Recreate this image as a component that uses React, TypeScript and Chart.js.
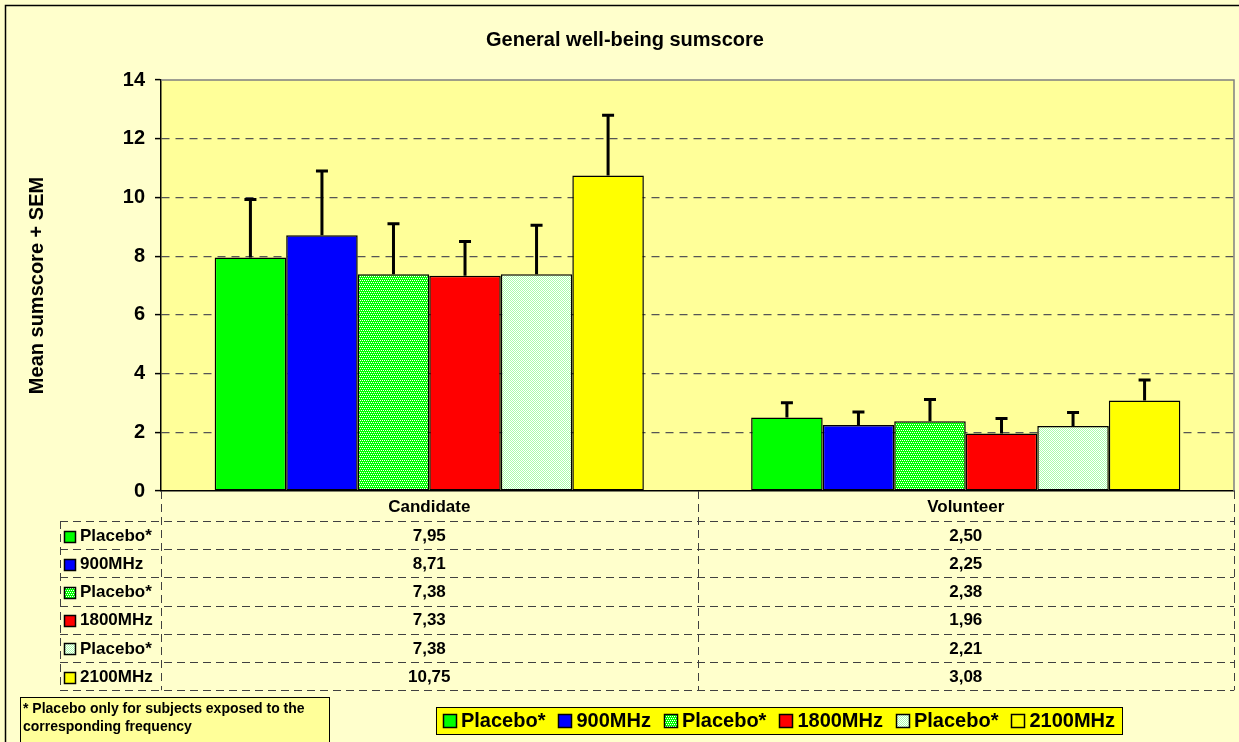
import React, { useEffect, useRef } from 'react';
import { Chart, registerables } from 'chart.js';

Chart.register(...registerables);

// ---------- data ----------
const categories = ['Candidate', 'Volunteer'];
const seriesLabels = ['Placebo*', '900MHz', 'Placebo*', '1800MHz', 'Placebo*', '2100MHz'];
const placebo900 = [7.95, 2.5];
const mhz900 = [8.71, 2.25];
const placebo1800 = [7.38, 2.38];
const mhz1800 = [7.33, 1.96];
const placebo2100 = [7.38, 2.21];
const mhz2100 = [10.75, 3.08];
const semPlacebo900 = [1.98, 0.51];
const sem900 = [2.19, 0.44];
const semPlacebo1800 = [1.72, 0.74];
const sem1800 = [1.17, 0.51];
const semPlacebo2100 = [1.67, 0.46];
const sem2100 = [2.05, 0.7];
const yTicks = [0, 2, 4, 6, 8, 10, 12, 14];
const titleText = 'General well-being sumscore';
const yAxisTitle = 'Mean sumscore + SEM';
const footnoteLines = ['* Placebo only for subjects exposed to the', 'corresponding frequency'];

const seriesValues = [placebo900, mhz900, placebo1800, mhz1800, placebo2100, mhz2100];
const seriesSem = [semPlacebo900, sem900, semPlacebo1800, sem1800, semPlacebo2100, sem2100];

const FONT = "'Liberation Sans', Arial, Helvetica, sans-serif";
const W = 1239;
const H = 742;

function makePattern(kind: 'dense' | 'light'): CanvasPattern | string {
  const c = document.createElement('canvas');
  c.width = 4;
  c.height = 4;
  const g = c.getContext('2d');
  if (!g) return kind === 'dense' ? '#55ff55' : '#ddffdd';
  if (kind === 'dense') {
    g.fillStyle = '#00ff00';
    g.fillRect(0, 0, 4, 4);
    g.fillStyle = '#ffffff';
    [[0, 0], [2, 0], [1, 2], [3, 2]].forEach(([x, y]) => g.fillRect(x, y, 1, 1));
  } else {
    g.fillStyle = '#ffffff';
    g.fillRect(0, 0, 4, 4);
    g.fillStyle = '#aaffaa';
    for (let y = 0; y < 4; y++) for (let x = 0; x < 4; x++) if ((x + y) % 2 === 0) g.fillRect(x, y, 1, 1);
  }
  const p = g.createPattern(c, 'repeat');
  return p || '#88ff88';
}

const fmt = (v: number) => v.toFixed(2).replace('.', ',');

export default function App() {
  const ref = useRef<HTMLCanvasElement | null>(null);

  useEffect(() => {
    document.body.style.margin = '0';
    document.body.style.overflow = 'hidden';
    const canvas = ref.current;
    if (!canvas) return;

    const fills = [
      '#00ff00',
      '#0000ff',
      makePattern('dense'),
      '#ff0000',
      makePattern('light'),
      '#ffff00',
    ];

    const drawKey = (ctx: CanvasRenderingContext2D, x: number, y: number, s: number, fill: any) => {
      ctx.save();
      ctx.fillStyle = fill;
      ctx.fillRect(x, y, s, s);
      ctx.strokeStyle = '#000';
      ctx.lineWidth = 1.5;
      ctx.setLineDash([]);
      ctx.strokeRect(x, y, s, s);
      ctx.restore();
    };

    const decor = {
      id: 'decor',
      beforeDraw(chart: any) {
        const { ctx, chartArea: a } = chart;
        ctx.save();
        ctx.fillStyle = '#ffffcc';
        ctx.fillRect(0, 0, W, H);
        ctx.strokeStyle = '#000';
        ctx.lineWidth = 1.5;
        ctx.strokeRect(5.5, 5.5, W + 20, H + 20);
        ctx.fillStyle = '#ffff99';
        ctx.fillRect(a.left, a.top, a.right - a.left, a.bottom - a.top);
        ctx.restore();
      },
      afterDatasetsDraw(chart: any) {
        const { ctx } = chart;
        const y = chart.scales.y;
        ctx.save();
        ctx.strokeStyle = '#000';
        ctx.lineWidth = 3;
        ctx.setLineDash([]);
        chart.data.datasets.forEach((ds: any, i: number) => {
          const meta = chart.getDatasetMeta(i);
          meta.data.forEach((bar: any, j: number) => {
            const top = y.getPixelForValue(ds.data[j] + seriesSem[i][j]);
            ctx.beginPath();
            ctx.moveTo(bar.x, bar.y);
            ctx.lineTo(bar.x, top);
            ctx.moveTo(bar.x - 6, top);
            ctx.lineTo(bar.x + 6, top);
            ctx.stroke();
          });
        });
        ctx.restore();
      },
      afterDraw(chart: any) {
        const { ctx, chartArea: a } = chart;
        const xs = chart.scales.x;
        ctx.save();
        // plot area top/right border
        ctx.strokeStyle = '#808080';
        ctx.lineWidth = 1.5;
        ctx.beginPath();
        ctx.moveTo(a.left, a.top);
        ctx.lineTo(a.right, a.top);
        ctx.lineTo(a.right, a.bottom);
        ctx.stroke();

        // title
        ctx.fillStyle = '#000';
        ctx.font = `bold 20px ${FONT}`;
        ctx.textAlign = 'center';
        ctx.textBaseline = 'middle';
        ctx.fillText(titleText, 625, 40);

        // y axis title
        ctx.save();
        ctx.translate(37, (a.top + a.bottom) / 2);
        ctx.rotate(-Math.PI / 2);
        ctx.fillText(yAxisTitle, 0, 0);
        ctx.restore();

        // data table
        const mid = (xs.getPixelForValue(0) + xs.getPixelForValue(1)) / 2;
        const cols = [a.left, mid, a.right];
        const headTop = a.bottom;
        const rowsTop = a.bottom + 30;
        const rowH = 28.2;
        const n = chart.data.datasets.length;
        const tableBottom = rowsTop + rowH * n;
        const labelLeft = 60;
        ctx.strokeStyle = '#404040';
        ctx.lineWidth = 1;
        ctx.setLineDash([8, 5]);
        ctx.beginPath();
        cols.forEach((cx) => {
          ctx.moveTo(Math.round(cx) + 0.5, headTop);
          ctx.lineTo(Math.round(cx) + 0.5, tableBottom);
        });
        ctx.moveTo(labelLeft + 0.5, rowsTop);
        ctx.lineTo(labelLeft + 0.5, tableBottom);
        for (let k = 0; k <= n; k++) {
          const yy = Math.round(rowsTop + k * rowH) + 0.5;
          ctx.moveTo(labelLeft, yy);
          ctx.lineTo(a.right, yy);
        }
        ctx.stroke();
        ctx.setLineDash([]);

        ctx.fillStyle = '#000';
        ctx.font = `bold 17px ${FONT}`;
        ctx.textAlign = 'center';
        ctx.textBaseline = 'middle';
        chart.data.labels.forEach((lab: string, j: number) => {
          const cx = (cols[j] + cols[j + 1]) / 2;
          ctx.fillText(lab, cx, headTop + 16);
        });
        chart.data.datasets.forEach((ds: any, i: number) => {
          const cy = rowsTop + i * rowH + rowH / 2 + 1;
          drawKey(ctx, 64.5, Math.round(cy - 5.5) + 0.5, 11, ds.backgroundColor);
          ctx.fillStyle = '#000';
          ctx.textAlign = 'left';
          ctx.fillText(ds.label, 80, cy);
          ctx.textAlign = 'center';
          ds.data.forEach((v: number, j: number) => {
            const cx = (cols[j] + cols[j + 1]) / 2;
            ctx.fillText(fmt(v), cx, cy);
          });
        });

        // footnote box
        ctx.fillStyle = '#ffff99';
        ctx.fillRect(20, 697, 309, 60);
        ctx.strokeStyle = '#000';
        ctx.lineWidth = 1;
        ctx.strokeRect(20.5, 697.5, 309, 60);
        ctx.fillStyle = '#000';
        ctx.font = `bold 14px ${FONT}`;
        ctx.textAlign = 'left';
        footnoteLines.forEach((t, i) => ctx.fillText(t, 23, 709 + i * 18));

        // legend
        ctx.font = `bold 20px ${FONT}`;
        const keyS = 13;
        const widths = chart.data.datasets.map((ds: any) => ctx.measureText(ds.label).width);
        const total = widths.reduce((s: number, w: number) => s + keyS + 5 + w, 0) + 13 * (n - 1);
        const boxW = total + 14;
        const boxL = 779 - boxW / 2;
        ctx.fillStyle = '#ffff00';
        ctx.fillRect(boxL, 707, boxW, 27);
        ctx.strokeStyle = '#000';
        ctx.lineWidth = 1;
        ctx.strokeRect(Math.round(boxL) + 0.5, 707.5, Math.round(boxW), 27);
        let lx = boxL + 7;
        chart.data.datasets.forEach((ds: any, i: number) => {
          drawKey(ctx, Math.round(lx) + 0.5, 714.5, keyS, ds.backgroundColor);
          ctx.fillStyle = '#000';
          ctx.textAlign = 'left';
          ctx.fillText(ds.label, lx + keyS + 5, 721.5);
          lx += keyS + 5 + widths[i] + 13;
        });
        ctx.restore();
      },
    };

    const chart = new Chart(canvas, {
      type: 'bar',
      data: {
        labels: categories,
        datasets: seriesLabels.map((label, i) => ({
          label,
          data: seriesValues[i],
          backgroundColor: fills[i] as any,
          borderColor: '#000',
          borderWidth: 1.5,
          borderSkipped: false,
          categoryPercentage: 0.8,
          barPercentage: 1,
        })),
      },
      options: {
        responsive: false,
        animation: false,
        devicePixelRatio: 1,
        layout: { padding: { left: 6, right: 5, top: 80, bottom: 251 } },
        plugins: {
          legend: { display: false },
          title: { display: false },
          tooltip: { enabled: false },
        },
        scales: {
          x: {
            ticks: { display: false },
            grid: { display: false, drawTicks: false },
            border: { display: true, color: '#000', width: 1.5 },
            afterFit: (s: any) => {
              s.height = 0;
            },
          },
          y: {
            min: 0,
            max: 14,
            afterBuildTicks: (s: any) => {
              s.ticks = yTicks.map((v) => ({ value: v }));
            },
            ticks: {
              color: '#000',
              padding: 10,
              font: { family: FONT, size: 20, weight: 'bold' },
            },
            grid: {
              color: (c: any) =>
                c.tick && (c.tick.value === 0 || c.tick.value === 14) ? 'rgba(0,0,0,0)' : '#555555',
              lineWidth: 1.2,
              tickLength: 6,
              tickColor: '#000',
              tickWidth: 1.5,
              tickBorderDash: [],
            },
            border: { display: true, color: '#000', width: 1.5, dash: [8, 6] },
            afterFit: (s: any) => {
              s.width = 155;
            },
          },
        },
      } as any,
      plugins: [decor],
    });

    return () => chart.destroy();
  }, []);

  return (
    <div style={{ width: W, height: H, position: 'relative' }}>
      <canvas ref={ref} width={W} height={H} style={{ display: 'block' }} />
    </div>
  );
}
